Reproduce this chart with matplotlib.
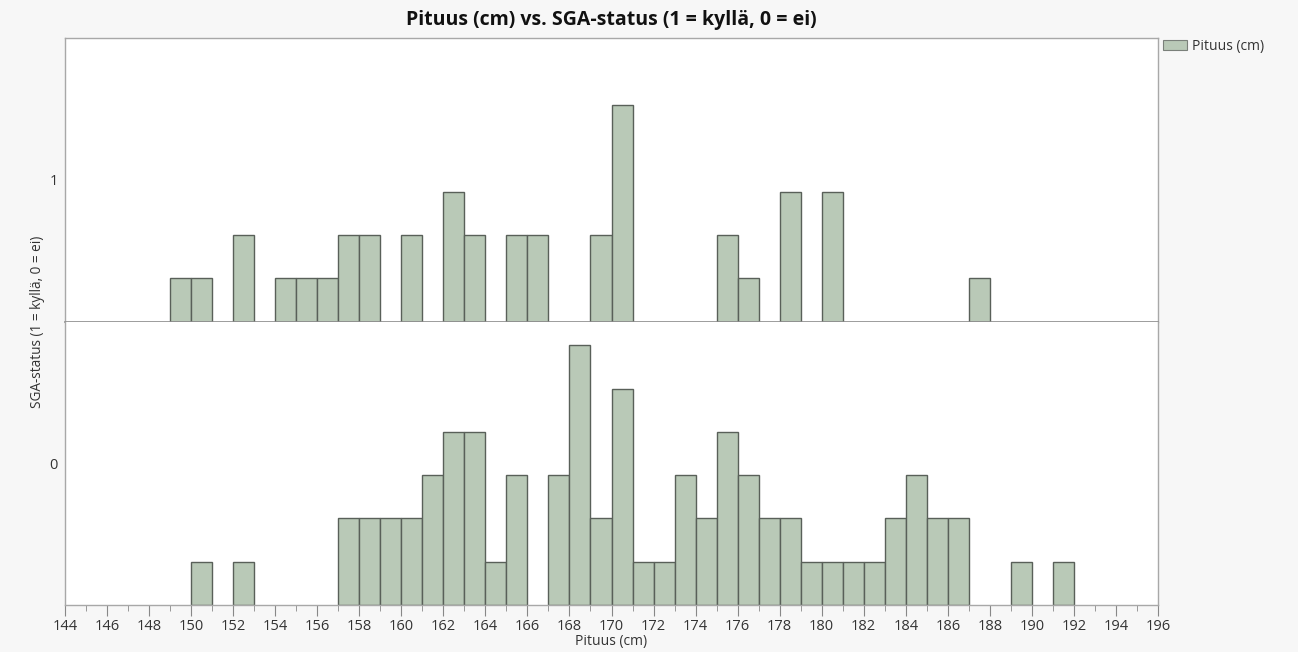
import matplotlib
matplotlib.use("Agg")
import matplotlib.pyplot as plt
from matplotlib.patches import Patch
from matplotlib.ticker import MultipleLocator

plt.rcParams['font.family'] = ['Open Sans', 'DejaVu Sans']

# Histogram bins: 1 cm wide, left edges 144..195
bin_edges = list(range(144, 197))

# Counts per bin (left edge -> count) for SGA-status = 1
sga1_bins = [149, 150, 152, 154, 155, 156, 157, 158, 160, 162, 163, 165, 166,
             169, 170, 175, 176, 178, 180, 187]
sga1_counts = [1, 1, 2, 1, 1, 1, 2, 2, 2, 3, 2, 2, 2,
               2, 5, 2, 1, 3, 3, 1]

# Counts per bin (left edge -> count) for SGA-status = 0
sga0_bins = [150, 152, 157, 158, 159, 160, 161, 162, 163, 164, 165, 167, 168,
             169, 170, 171, 172, 173, 174, 175, 176, 177, 178, 179, 180, 181,
             182, 183, 184, 185, 186, 189, 191]
sga0_counts = [1, 1, 2, 2, 2, 2, 3, 4, 4, 1, 3, 3, 6,
               2, 5, 1, 1, 3, 2, 4, 3, 2, 2, 1, 1, 1,
               1, 2, 3, 2, 2, 1, 1]

status_labels = ['1', '0']
title = 'Pituus (cm) vs. SGA-status (1 = kyllä, 0 = ei)'
x_label = 'Pituus (cm)'
y_label = 'SGA-status (1 = kyllä, 0 = ei)'
legend_label = 'Pituus (cm)'

bar_fill = '#b9c9b7'
bar_edge = '#596059'
frame_col = '#a8a8a8'
text_col = '#333333'

fig = plt.figure(figsize=(12.98, 6.52), dpi=100, facecolor='#f7f7f7')
left, right, bottom, top = 65 / 1298, 1158 / 1298, 1 - 605 / 652, 1 - 38 / 652
mid = (top + bottom) / 2
ax1 = fig.add_axes([left, mid, right - left, top - mid])
ax0 = fig.add_axes([left, bottom, right - left, mid - bottom], sharex=ax1)

ymax = 6.55
for ax, bins, counts, lab in ((ax1, sga1_bins, sga1_counts, status_labels[0]),
                              (ax0, sga0_bins, sga0_counts, status_labels[1])):
    ax.set_facecolor('white')
    ax.bar(bins, counts, width=1, align='edge', color=bar_fill,
           edgecolor=bar_edge, linewidth=1.0, zorder=2)
    ax.set_ylim(0, ymax)
    ax.set_yticks([ymax / 2], labels=[lab])
    ax.tick_params(axis='y', length=0, pad=5, labelsize=10.5, labelcolor=text_col)
    for side in ('left', 'right', 'top', 'bottom'):
        ax.spines[side].set_color(frame_col)
        ax.spines[side].set_linewidth(1.0)

ax1.spines['bottom'].set_color('#8c8c8c')
ax1.spines['bottom'].set_linewidth(1.2)
ax0.spines['top'].set_visible(False)
ax1.tick_params(axis='x', which='both', bottom=False, labelbottom=False)

ax0.set_xlim(bin_edges[0], bin_edges[-1])
ax0.xaxis.set_major_locator(MultipleLocator(2))
ax0.xaxis.set_minor_locator(MultipleLocator(1))
ax0.tick_params(axis='x', which='major', length=8, color='#888888',
                labelsize=10.5, labelcolor=text_col, pad=2)
ax0.tick_params(axis='x', which='minor', length=4, color='#888888')
ax0.set_xlabel(x_label, fontsize=10, color=text_col, labelpad=0)

fig.text(38 / 1298, mid, y_label, rotation=90, ha='center', va='center',
         fontsize=9.8, color=text_col)
fig.text((left + right) / 2, 1 - 20 / 652, title, ha='center', va='center',
         fontsize=14, fontweight='bold', color='#111111')

handle = Patch(facecolor=bar_fill, edgecolor='#7a807a', linewidth=0.8)
fig.legend([handle], [legend_label], loc='upper left',
           bbox_to_anchor=(1163 / 1298, 1 - 39 / 652), frameon=False,
           fontsize=10, handlelength=1.7, handleheight=0.8, handletextpad=0.4,
           labelcolor=text_col, borderaxespad=0, borderpad=0)

fig.savefig('out.png', dpi=100, facecolor=fig.get_facecolor())
